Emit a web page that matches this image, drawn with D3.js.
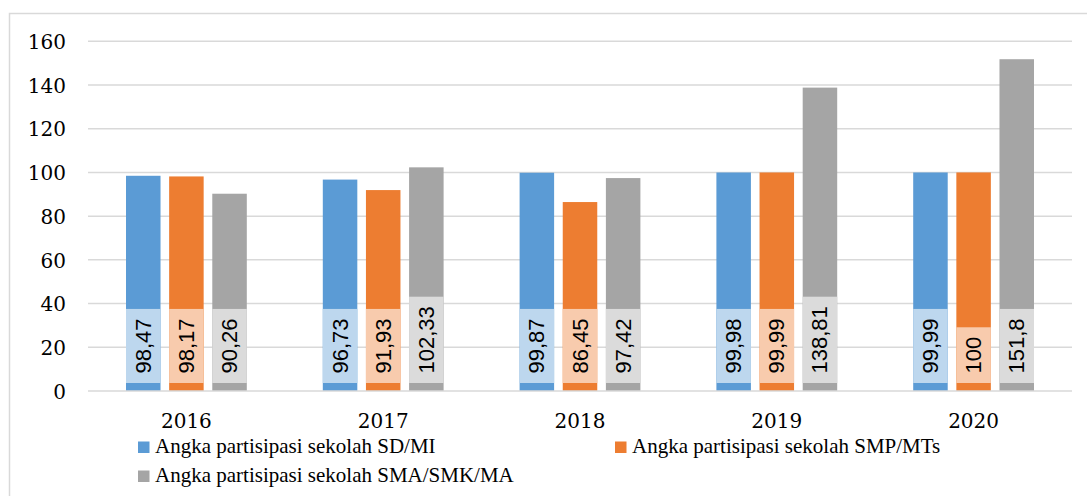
<!DOCTYPE html>
<html>
<head>
<meta charset="utf-8">
<script src="https://cdn.jsdelivr.net/npm/d3@7"></script>
<style>
  body { margin: 0; background: #fff; }
  svg { display: block; }
</style>
</head>
<body>
<svg id="chart" width="1087" height="496"></svg>
<script>
// data
const years = ["2016", "2017", "2018", "2019", "2020"];
const seriesNames = [
    "Angka partisipasi sekolah SD/MI",
    "Angka partisipasi sekolah SMP/MTs",
    "Angka partisipasi sekolah SMA/SMK/MA"
];
const sdValues = [98.47, 96.73, 99.87, 99.98, 99.99];
const smpValues = [98.17, 91.93, 86.45, 99.99, 100];
const smaValues = [90.26, 102.33, 97.42, 138.81, 151.8];
const yTicks = [0, 20, 40, 60, 80, 100, 120, 140, 160];

const colors = ["#5B9BD5", "#ED7D31", "#A5A5A5"];
const labelFills = ["#BDD7EE", "#F8CBAD", "#DBDBDB"];

const allValues = [sdValues, smpValues, smaValues];

const svg = d3.select("#chart");
const serif = "'Liberation Serif', 'DejaVu Serif', serif";
const axisFont = "'DejaVu Serif', serif";
const sans = "'Liberation Sans', Arial, sans-serif";

// outer frame (only left + top edges fall inside the picture)
svg.append("rect")
    .attr("x", 9.5).attr("y", 13.5)
    .attr("width", 1200).attr("height", 600)
    .attr("fill", "none")
    .attr("stroke", "#D9D9D9")
    .attr("stroke-width", 1.5);

const plot = {left: 88, right: 1072, top: 41.3, bottom: 391};

const y = d3.scaleLinear()
    .domain([0, 160])
    .range([plot.bottom, plot.top]);

const x = d3.scaleBand()
    .domain(years)
    .range([plot.left, plot.right])
    .paddingInner(0)
    .paddingOuter(0);

const xs = d3.scaleBand()
    .domain([0, 1, 2])
    .range([38, x.bandwidth() - 38])
    .paddingInner(0.2);

// gridlines
svg.append("g")
    .selectAll("line")
    .data(yTicks.filter(d => d > 0))
    .enter().append("line")
    .attr("x1", plot.left).attr("x2", plot.right)
    .attr("y1", d => y(d)).attr("y2", d => y(d))
    .attr("stroke", "#D9D9D9")
    .attr("stroke-width", 1.5);

// y axis labels
const yAxis = svg.append("g")
    .attr("transform", `translate(66,0)`)
    .call(d3.axisLeft(y).tickValues(yTicks).tickSize(0).tickPadding(0));
yAxis.select(".domain").remove();
yAxis.attr("font-family", null).attr("font-size", null);
yAxis.selectAll("text")
    .style("font-family", axisFont)
    .style("font-size", "20px")
    .attr("fill", "#000")
    .attr("dy", "0.36em");

// bars
const groups = svg.append("g")
    .selectAll("g")
    .data(years)
    .enter().append("g")
    .attr("transform", d => `translate(${x(d)},0)`);

groups.each(function(year, yi) {
    const g = d3.select(this);
    allValues.forEach((vals, si) => {
        const v = vals[yi];
        const bx = xs(si);
        const bw = xs.bandwidth();
        g.append("rect")
            .attr("x", bx).attr("y", y(v))
            .attr("width", bw).attr("height", y(0) - y(v))
            .attr("fill", colors[si]);

        // data label with light box, rotated
        const label = String(v).replace(".", ",");
        const txt = g.append("text")
            .attr("font-family", sans)
            .attr("font-size", 22)
            .attr("fill", "#000")
            .attr("text-anchor", "middle")
            .attr("dominant-baseline", "central")
            .text(label);
        const tw = txt.node().getComputedTextLength();
        const boxH = tw + 19;
        const boxBottom = y(0) - 8;
        const cy = boxBottom - boxH / 2;
        g.insert("rect", function() { return txt.node(); })
            .attr("x", bx).attr("y", boxBottom - boxH)
            .attr("width", bw).attr("height", boxH)
            .attr("fill", labelFills[si]);
        txt.attr("transform", `translate(${bx + bw / 2},${cy}) rotate(-90)`);
    });
});

// baseline
svg.append("line")
    .attr("x1", plot.left).attr("x2", plot.right)
    .attr("y1", y(0)).attr("y2", y(0))
    .attr("stroke", "#D9D9D9")
    .attr("stroke-width", 1.5);

// x axis labels
svg.append("g")
    .selectAll("text")
    .data(years)
    .enter().append("text")
    .attr("x", d => x(d) + x.bandwidth() / 2)
    .attr("y", 428)
    .attr("text-anchor", "middle")
    .style("font-family", axisFont)
    .style("font-size", "20px")
    .attr("fill", "#000")
    .text(d => d);

// legend
const legendPos = [
    {x: 138, y: 453},
    {x: 615, y: 453},
    {x: 138, y: 482}
];
const legend = svg.append("g")
    .selectAll("g")
    .data(seriesNames)
    .enter().append("g")
    .attr("transform", (d, i) => `translate(${legendPos[i].x},${legendPos[i].y})`);

legend.append("rect")
    .attr("x", 0).attr("y", -11.5)
    .attr("width", 11.5).attr("height", 11.5)
    .attr("fill", (d, i) => colors[i]);

legend.append("text")
    .attr("x", 17)
    .attr("y", 0)
    .style("font-family", serif)
    .style("font-size", "21px")
    .attr("fill", "#000")
    .text(d => d);
</script>
</body>
</html>
